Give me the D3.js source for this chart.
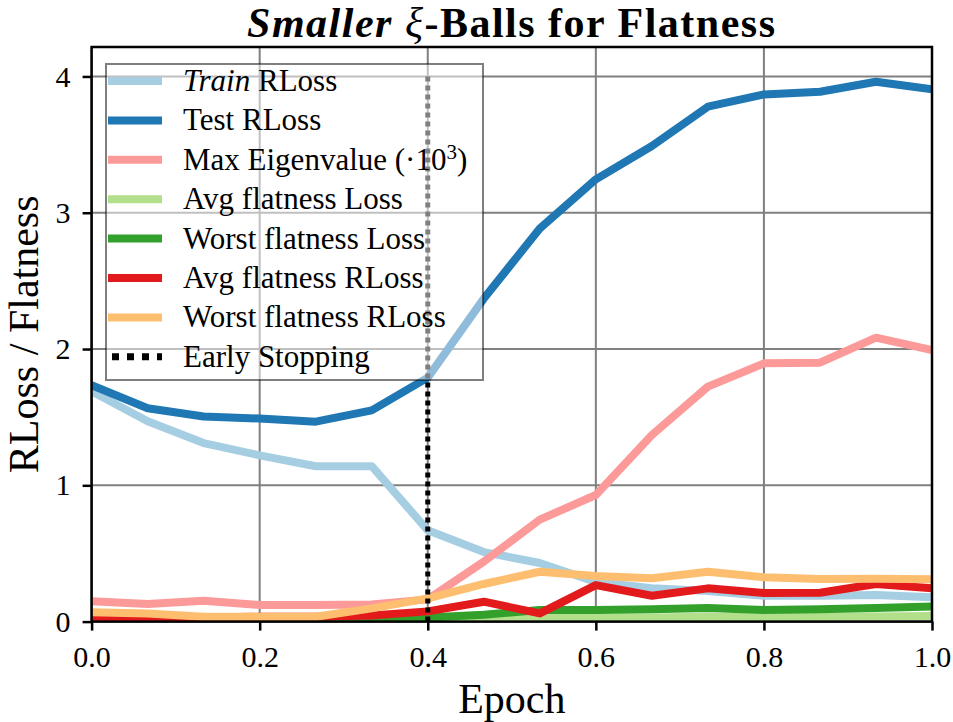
<!DOCTYPE html>
<html>
<head>
<meta charset="utf-8">
<script src="https://cdn.jsdelivr.net/npm/d3@7"></script>
<style>
  body { margin: 0; background: #fff; }
  svg, svg text, svg tspan { font-family: "Liberation Serif", "Times New Roman", Times, "DejaVu Serif", serif; }
</style>
</head>
<body>
<div id="chart"></div>
<script>
const width = 953;
const height = 722;

// x positions (fraction of an epoch) for the 16 evaluation points
const epochs = [0, 0.0667, 0.1333, 0.2, 0.2667, 0.3333, 0.4, 0.4667,
  0.5333, 0.6, 0.6667, 0.7333, 0.8, 0.8667, 0.9333, 1.0];

const trainRLoss = [1.69, 1.47, 1.31, 1.22, 1.14, 1.14, 0.67, 0.51,
  0.43, 0.29, 0.245, 0.225, 0.19, 0.19, 0.195, 0.178];
const testRLoss = [1.735, 1.565, 1.505, 1.49, 1.467, 1.55, 1.79, 2.37,
  2.885, 3.245, 3.49, 3.778, 3.868, 3.888, 3.961, 3.905];
const maxEigen = [0.15, 0.13, 0.153, 0.122, 0.122, 0.125, 0.163, 0.44,
  0.748, 0.929, 1.369, 1.724, 1.895, 1.9, 2.083, 1.993];
const avgFlatLoss = [0, 0, 0, 0, 0, 0.002, 0.006, 0.015,
  0.025, 0.03, 0.03, 0.035, 0.032, 0.035, 0.038, 0.042];
const worstFlatLoss = [0.005, 0.005, 0.005, 0.005, 0.008, 0.015, 0.03, 0.05,
  0.085, 0.085, 0.09, 0.1, 0.085, 0.09, 0.1, 0.11];
const avgFlatRLoss = [0.024, 0.018, 0.03, 0.035, 0.035, 0.045, 0.075, 0.146,
  0.06, 0.268, 0.19, 0.244, 0.21, 0.212, 0.276, 0.244];
const worstFlatRLoss = [0.068, 0.06, 0.036, 0.036, 0.036, 0.097, 0.17, 0.276,
  0.366, 0.335, 0.318, 0.366, 0.325, 0.312, 0.315, 0.31];

const earlyStop = 0.4;
const xTicks = [0, 0.2, 0.4, 0.6, 0.8, 1.0];
const yTicks = [0, 1, 2, 3, 4];

const series = [
  { name: "Train RLoss", values: trainRLoss, color: "#a6cee3" },
  { name: "Test RLoss", values: testRLoss, color: "#1f78b4" },
  { name: "Max Eigenvalue", values: maxEigen, color: "#fb9a99" },
  { name: "Avg flatness Loss", values: avgFlatLoss, color: "#b2df8a" },
  { name: "Worst flatness Loss", values: worstFlatLoss, color: "#33a02c" },
  { name: "Avg flatness RLoss", values: avgFlatRLoss, color: "#e31a1c" },
  { name: "Worst flatness RLoss", values: worstFlatRLoss, color: "#fdbf6f" }
];

const margin = { top: 47, right: 21, bottom: 100.4, left: 91.6 };

const svg = d3.select("#chart")
  .append("svg")
  .attr("width", width)
  .attr("height", height);

const x = d3.scaleLinear()
  .domain([0, 1])
  .range([margin.left, width - margin.right]);

const y = d3.scaleLinear()
  .domain([0, 4.216])
  .range([height - margin.bottom, margin.top]);

svg.append("clipPath")
  .attr("id", "plot-clip")
  .append("rect")
  .attr("x", x(0))
  .attr("y", y(4.216))
  .attr("width", x(1) - x(0))
  .attr("height", y(0) - y(4.216));

// grid
svg.append("g")
  .selectAll("line")
  .data(xTicks)
  .enter()
  .append("line")
  .attr("x1", d => x(d)).attr("x2", d => x(d))
  .attr("y1", y(0)).attr("y2", y(4.216))
  .attr("stroke", "#808080")
  .attr("stroke-width", 2);

svg.append("g")
  .selectAll("line")
  .data(yTicks)
  .enter()
  .append("line")
  .attr("x1", x(0)).attr("x2", x(1))
  .attr("y1", d => y(d)).attr("y2", d => y(d))
  .attr("stroke", "#808080")
  .attr("stroke-width", 2);

const line = d3.line()
  .x((d, i) => x(epochs[i]))
  .y(d => y(d));

const plot = svg.append("g").attr("clip-path", "url(#plot-clip)");

plot.selectAll("path.series")
  .data(series)
  .enter()
  .append("path")
  .attr("class", "series")
  .attr("d", d => line(d.values))
  .attr("fill", "none")
  .attr("stroke", d => d.color)
  .attr("stroke-width", 8)
  .attr("stroke-linejoin", "round");

// early stopping marker
plot.append("line")
  .attr("x1", x(earlyStop)).attr("x2", x(earlyStop))
  .attr("y1", y(0)).attr("y2", y(4))
  .attr("stroke", "#000")
  .attr("stroke-width", 5)
  .attr("stroke-dasharray", "5,4");

// axes
const xAxis = svg.append("g")
  .attr("transform", `translate(0,${y(0)})`)
  .call(d3.axisBottom(x).tickValues(xTicks).tickFormat(d3.format(".1f"))
    .tickSize(9).tickPadding(15));

const yAxis = svg.append("g")
  .attr("transform", `translate(${x(0)},0)`)
  .call(d3.axisLeft(y).tickValues(yTicks).tickFormat(d3.format("d"))
    .tickSize(9).tickPadding(12));

[xAxis, yAxis].forEach(g => {
  g.attr("font-family", null).attr("font-size", 30);
  g.select(".domain").remove();
  g.selectAll(".tick line").attr("stroke", "#000").attr("stroke-width", 2.5);
  g.selectAll(".tick text").attr("fill", "#000");
});

// spines
svg.append("rect")
  .attr("x", x(0))
  .attr("y", y(4.216))
  .attr("width", x(1) - x(0))
  .attr("height", y(0) - y(4.216))
  .attr("fill", "none")
  .attr("stroke", "#000")
  .attr("stroke-width", 2.5);

// labels
svg.append("text")
  .attr("x", (x(0) + x(1)) / 2)
  .attr("y", 713)
  .attr("text-anchor", "middle")
  .attr("font-size", 42)
  .text("Epoch");

svg.append("text")
  .attr("transform", `translate(38,${(y(0) + y(4.216)) / 2}) rotate(-90)`)
  .attr("text-anchor", "middle")
  .attr("font-size", 42)
  .text("RLoss / Flatness");

const title = svg.append("text")
  .attr("x", (x(0) + x(1)) / 2)
  .attr("y", 37)
  .attr("text-anchor", "middle")
  .attr("font-size", 42)
  .attr("font-weight", "bold")
  .attr("letter-spacing", 1.5);
title.append("tspan").attr("font-style", "italic").text("Smaller ");
title.append("tspan").attr("font-style", "italic").attr("font-weight", "normal").text("ξ");
title.append("tspan").text("-Balls for Flatness");

// legend
const legendX = 106;
const legendY = 64;
const rowStep = 39.4;

const legend = svg.append("g");

legend.append("rect")
  .attr("x", legendX)
  .attr("y", legendY)
  .attr("width", 377)
  .attr("height", 316)
  .attr("fill", "#fff")
  .attr("fill-opacity", 0.5)
  .attr("stroke", "#000")
  .attr("stroke-opacity", 0.5)
  .attr("stroke-width", 2);

const items = legend.selectAll("g.item")
  .data(series)
  .enter()
  .append("g")
  .attr("class", "item")
  .attr("transform", (d, i) => `translate(0,${81 + i * rowStep})`);

items.append("line")
  .attr("x1", 108).attr("x2", 162)
  .attr("stroke", d => d.color)
  .attr("stroke-width", 8);

const labels = items.append("text")
  .attr("x", 183)
  .attr("y", 10)
  .attr("font-size", 31);

labels.each(function(d) {
  const t = d3.select(this);
  if (d.name === "Train RLoss") {
    t.append("tspan").attr("font-style", "italic").text("Train");
    t.append("tspan").text(" RLoss");
  } else if (d.name === "Max Eigenvalue") {
    t.append("tspan").text("Max Eigenvalue (·10");
    t.append("tspan").attr("dy", -11).attr("font-size", 21).text("3");
    t.append("tspan").attr("dy", 11).text(")");
  } else {
    t.text(d.name);
  }
});

const stopRow = legend.append("g")
  .attr("transform", `translate(0,${81 + series.length * rowStep})`);

stopRow.append("line")
  .attr("x1", 112).attr("x2", 162)
  .attr("stroke", "#000")
  .attr("stroke-width", 7)
  .attr("stroke-dasharray", "7,8");

stopRow.append("text")
  .attr("x", 183)
  .attr("y", 10)
  .attr("font-size", 31)
  .text("Early Stopping");
</script>
</body>
</html>
